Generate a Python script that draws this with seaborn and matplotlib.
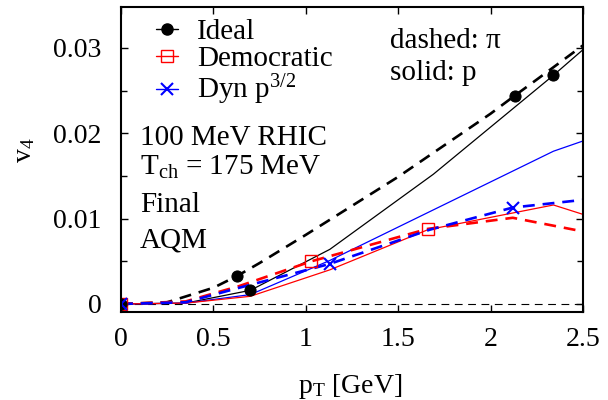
import matplotlib
matplotlib.use("Agg")
import matplotlib.pyplot as plt
from matplotlib.lines import Line2D
from matplotlib.ticker import MultipleLocator
import seaborn as sns

# ---- data ----
pt_ideal_pi = [0, 0.25, 0.5, 0.63, 0.75, 1.0, 1.25, 1.5, 1.75, 2.0, 2.13, 2.25, 2.5]
v4_ideal_pi = [0, 0.0002, 0.0019, 0.0033, 0.0048, 0.0081, 0.0115, 0.0149, 0.0186, 0.0223, 0.0244, 0.0263, 0.0303]
pt_ideal_p = [0, 0.35, 0.70, 1.13, 1.69, 2.34, 2.5]
v4_ideal_p = [0, 0.0001, 0.0016, 0.0064, 0.0152, 0.0268, 0.0298]

pt_demo_pi = [0, 0.35, 0.64, 1.03, 1.66, 2.12, 2.5]
v4_demo_pi = [0, 0.0003, 0.0021, 0.0050, 0.0088, 0.0101, 0.0085]
pt_demo_p = [0, 0.35, 0.70, 1.13, 1.66, 2.34, 2.5]
v4_demo_p = [0, 0.0001, 0.0009, 0.0040, 0.0087, 0.0116, 0.0105]

pt_dyn_pi = [0, 0.35, 0.64, 1.13, 1.67, 2.12, 2.5]
v4_dyn_pi = [0, 0.0002, 0.0019, 0.0047, 0.0087, 0.0113, 0.0122]
pt_dyn_p = [0, 0.35, 0.70, 1.13, 2.34, 2.5]
v4_dyn_p = [0, 0.0001, 0.0011, 0.0051, 0.0179, 0.0191]

# marker positions
pt_ideal_mk = [0, 0.63, 0.70, 2.13, 2.34]
v4_ideal_mk = [0, 0.0033, 0.0016, 0.0244, 0.0268]
pt_demo_mk = [0, 1.03, 1.66]
v4_demo_mk = [0, 0.0050, 0.0088]
pt_dyn_mk = [0, 1.13, 2.12]
v4_dyn_mk = [0, 0.0047, 0.0113]

series_labels = ["Ideal", r"Democratic", r"Dyn p$^{\mathregular{3/2}}$"]
x_ticks = [0, 0.5, 1, 1.5, 2, 2.5]
x_ticklabels = ["0", "0.5", "1", "1.5", "2", "2.5"]
y_ticks = [0, 0.01, 0.02, 0.03]
y_ticklabels = ["0", "0.01", "0.02", "0.03"]

# ---- style ----
sns.set_theme(style="ticks")
plt.rcParams["font.family"] = ["Liberation Serif", "DejaVu Serif"]
plt.rcParams["mathtext.fontset"] = "custom"
plt.rcParams["mathtext.rm"] = "Liberation Serif"
plt.rcParams["mathtext.it"] = "Liberation Serif:italic"
plt.rcParams["text.color"] = "black"
plt.rcParams["axes.labelcolor"] = "black"
FS = 20
FT = 21

fig = plt.figure(figsize=(6.08, 4.0), dpi=100)
ax = fig.add_axes([121 / 608, 88 / 400, 462 / 608, 305 / 400])

DASH = (0, (4.5, 3))
LW_D = 1.9
LW_S = 0.9

ax.axhline(0, color="black", lw=0.8, ls=(0, (7, 5)), zorder=1)

sns.lineplot(x=pt_ideal_pi, y=v4_ideal_pi, ax=ax, color="black", lw=LW_D, linestyle=DASH, estimator=None)
sns.lineplot(x=pt_ideal_p, y=v4_ideal_p, ax=ax, color="black", lw=LW_S, estimator=None)
sns.lineplot(x=pt_dyn_p, y=v4_dyn_p, ax=ax, color="blue", lw=LW_S, estimator=None)
sns.lineplot(x=pt_demo_p, y=v4_demo_p, ax=ax, color="red", lw=LW_S, estimator=None)
sns.lineplot(x=pt_demo_pi, y=v4_demo_pi, ax=ax, color="red", lw=LW_D, linestyle=DASH, estimator=None)
sns.lineplot(x=pt_dyn_pi, y=v4_dyn_pi, ax=ax, color="blue", lw=LW_D, linestyle=DASH, estimator=None)

sns.lineplot(x=pt_demo_mk, y=v4_demo_mk, ax=ax, linestyle="", marker="s", markersize=9,
             markerfacecolor="none", markeredgecolor="red", markeredgewidth=1.0, estimator=None)
sns.lineplot(x=pt_ideal_mk, y=v4_ideal_mk, ax=ax, linestyle="", marker="o", markersize=8,
             markerfacecolor="black", markeredgecolor="black", estimator=None)
sns.lineplot(x=pt_dyn_mk, y=v4_dyn_mk, ax=ax, linestyle="", marker="x", markersize=9,
             markeredgecolor="blue", markeredgewidth=1.5, estimator=None)

ax.set_xlim(0, 2.5)
ax.set_ylim(-0.00094, 0.0348)
ax.set_xticks(x_ticks)
ax.set_xticklabels(x_ticklabels)
ax.set_yticks(y_ticks)
ax.set_yticklabels(y_ticklabels)
ax.yaxis.set_minor_locator(MultipleLocator(0.005))
ax.tick_params(axis="both", which="both", direction="in", top=True, right=True,
               labelsize=FS, width=1.0, color="black", labelcolor="black")
ax.tick_params(axis="both", which="major", length=5)
ax.tick_params(axis="both", which="minor", length=4)
ax.tick_params(axis="x", pad=11)
ax.tick_params(axis="y", pad=14)
for s in ax.spines.values():
    s.set_linewidth(1.5)
    s.set_color("black")

ax.set_xlabel(r"p$_{\mathregular{T}}$ [GeV]", fontsize=FS, va="baseline", color="black")
ax.xaxis.set_label_coords((350 - 121) / 462, (312 - 393) / 305)
ax.set_ylabel(r"v$_{\mathregular{4}}$", fontsize=FS, va="center", color="black")
ax.yaxis.set_label_coords((25 - 121) / 462, (312 - 150) / 305)

handles = [
    Line2D([], [], color="black", lw=1.0, marker="o", markersize=8),
    Line2D([], [], color="red", lw=1.0, marker="s", markersize=9, markerfacecolor="none"),
    Line2D([], [], color="blue", lw=1.0, marker="x", markersize=9, markeredgewidth=1.5),
]
ax.legend(handles, series_labels, loc="upper left", frameon=False, fontsize=FT,
          labelcolor="black",
          bbox_to_anchor=((156 - 121) / 462, 1 - (19 - 7) / 305),
          borderaxespad=0, borderpad=0, handlelength=0.75, handletextpad=0.65,
          labelspacing=0.02)

def ftext(x, y, s):
    fig.text(x / 608, 1 - y / 400, s, fontsize=FT, ha="left", va="baseline", color="black")

ftext(390, 48, "dashed: π")
ftext(390, 80, "solid: p")
ftext(140, 145, "100 MeV RHIC")
ftext(140, 175, r"T$_{\mathregular{ch}}$ = 175 MeV")
ftext(140, 212, "Final")
ftext(140, 247, "AQM")

fig.savefig("out.png", dpi=100)
